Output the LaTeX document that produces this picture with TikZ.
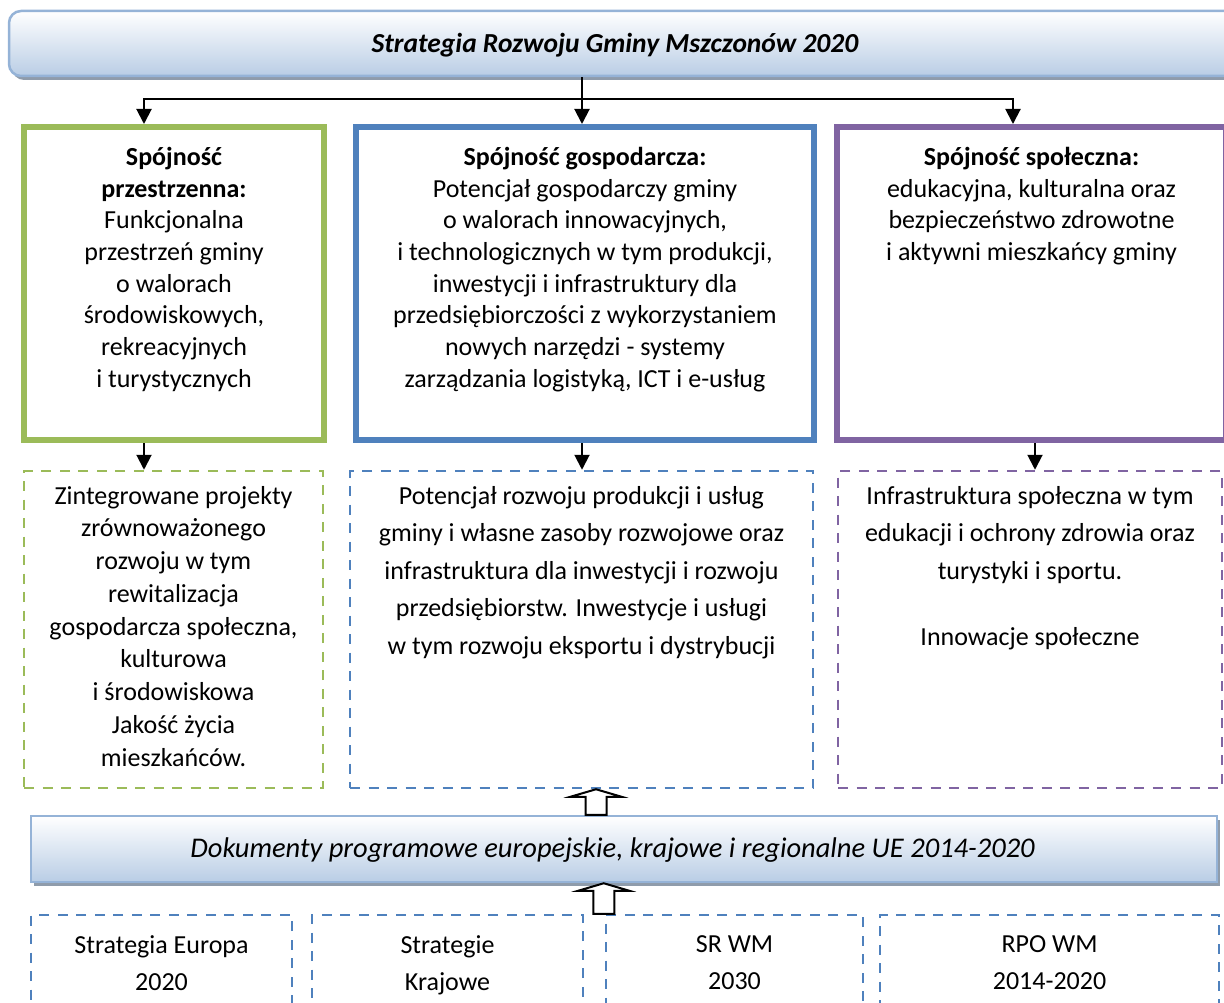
\documentclass[tikz,border=0pt]{standalone}
\usepackage{fontspec}
\setmainfont{Carlito}
\usetikzlibrary{positioning,calc,arrows.meta,shadows}

\definecolor{spatgreen}{RGB}{155,187,89}
\definecolor{econblue}{RGB}{79,129,189}
\definecolor{socpurple}{RGB}{128,100,162}
\definecolor{barblue}{RGB}{185,205,229}
\definecolor{barline}{RGB}{149,179,215}
\definecolor{barshadow}{RGB}{143,156,171}

\begin{document}
\begin{tikzpicture}
    [
    x=1pt, y=-1pt,
    bar/.style={
      draw=barline, line width=2.5pt,
      top color=white, bottom color=barblue, inner sep=0pt,
      drop shadow={shadow xshift=3pt, shadow yshift=-4pt,
        fill=barshadow, opacity=1}},
    goal/.style={draw=#1, line width=6pt, inner sep=0pt},
    detail/.style={draw=#1, line width=2.5pt,
      dash pattern=on 10pt off 8.5pt, inner sep=0pt},
    txt/.style={align=center, inner sep=0pt, anchor=north,
      execute at begin node=\rule{0pt}{24pt},
      font=\fontsize{26}{31.7}\selectfont},
    title/.style={inner sep=0pt, anchor=base},
    conn/.style={line width=2pt, -{Triangle[length=15pt,width=15pt]}},
    hollow/.style={draw=black, line width=2pt, fill=white, line join=miter}
    ]
    \useasboundingbox (0,0) rectangle (1224,1003);
    \clip (0,0) rectangle (1224,1003);

    % Top bar
    \node[bar, rounded corners=12pt, minimum width=1241pt, minimum height=65pt]
      (strat) at (629.5,43.5) {};
    \node[title, font=\fontsize{27.5}{31.7}\selectfont\bfseries\itshape]
      (strat-text) at (615,53) {Strategia Rozwoju Gminy Mszczonów 2020};

    % The three goals
    \node[goal=spatgreen, minimum width=300pt, minimum height=313pt] (spat) at (174,283.5) {};
    \node[goal=econblue, minimum width=458pt, minimum height=313pt] (econ) at (585,283.5) {};
    \node[goal=socpurple, minimum width=389pt, minimum height=313pt] (soc) at (1031.5,283.5) {};

    \node[txt] (spat-text) at ([yshift=-23pt]spat.north)
      {\textbf{Spójność}\\ \textbf{przestrzenna:}\\ Funkcjonalna\\ przestrzeń gminy\\
       o walorach\\ środowiskowych,\\ rekreacyjnych\\ i turystycznych};
    \node[txt] (econ-text) at ([yshift=-23pt]econ.north)
      {\textbf{Spójność gospodarcza:}\\ Potencjał gospodarczy gminy\\
       o walorach innowacyjnych,\\ i technologicznych w tym produkcji,\\
       inwestycji i infrastruktury dla\\ przedsiębiorczości z wykorzystaniem\\
       nowych narzędzi - systemy\\ zarządzania logistyką, ICT i e-usług};
    \node[txt] (soc-text) at ([yshift=-23pt]soc.north)
      {\textbf{Spójność społeczna:}\\ edukacyjna, kulturalna oraz\\
       bezpieczeństwo zdrowotne\\ i aktywni mieszkańcy gminy};

    % The details below each goal
    \node[detail=spatgreen, minimum width=299pt, minimum height=317pt] (spatD) at (173.5,629.5) {};
    \node[detail=econblue, minimum width=463pt, minimum height=317pt] (econD) at (581.5,629.5) {};
    \node[detail=socpurple, minimum width=384pt, minimum height=317pt] (socD) at (1030,629.5) {};

    \node[txt, font=\fontsize{26}{32.75}\selectfont] (spatD-text) at ([yshift=-16pt]spatD.north)
      {Zintegrowane projekty\\ zrównoważonego\\ rozwoju w tym\\ rewitalizacja\\
       gospodarcza społeczna,\\ kulturowa\\ i środowiskowa\\ Jakość życia\\ mieszkańców.};
    \node[txt, font=\fontsize{26}{37.5}\selectfont] (econD-text) at ([yshift=-16pt]econD.north)
      {Potencjał rozwoju produkcji i usług\\ gminy i własne zasoby rozwojowe oraz\\
       infrastruktura dla inwestycji i rozwoju\\ przedsiębiorstw. Inwestycje i usługi\\
       w tym rozwoju eksportu i dystrybucji};
    \node[txt, font=\fontsize{26}{37.5}\selectfont] (socD-text) at ([yshift=-16pt]socD.north)
      {Infrastruktura społeczna w tym\\ edukacji i ochrony zdrowia oraz\\
       turystyki i sportu.\\[28.5pt] Innowacje społeczne};

    % Lower bar
    \node[bar, minimum width=1186pt, minimum height=66pt] (docs) at (624,849) {};
    \node[title, font=\fontsize{28.5}{31.7}\selectfont\itshape] (docs-text) at (612.5,857)
      {Dokumenty programowe europejskie, krajowe i regionalne UE 2014-2020};

    % Source documents
    \foreach \name/\cx/\w/\lab in {
        srcA/161.5/261/{Strategia Europa\\ 2020},
        srcB/447.5/271/{Strategie\\ Krajowe},
        srcC/734.5/257/{SR WM\\ 2030},
        srcD/1049.5/339/{RPO WM\\ 2014-2020}} {
      \node[detail=econblue, minimum width=\w pt, minimum height=125pt] (\name) at (\cx,977.5) {};
      \node[txt, font=\fontsize{26}{37.5}\selectfont] (\name-text) at ([yshift=-21.5pt]\name.north) {\lab};
    }

    % Connectors from the top bar
    \coordinate (fork) at (582,99);
    \coordinate (forkL) at (144,99);
    \coordinate (forkR) at (1013,99);
    \draw[conn] (strat.south -| fork) -- (econ.north -| fork);
    \draw[line width=2pt, {Triangle[length=15pt,width=15pt]}-{Triangle[length=15pt,width=15pt]}]
      (forkL |- spat.north) -- (forkL) -- (forkR) -- (forkR |- soc.north);

    % Goals to details
    \foreach \g/\dx in {spat/-30, econ/-3, soc/3.5} {
      \draw[conn] (\g.south) ++(\dx,0) coordinate (drop-\g) -- (drop-\g |- \g D.north);
    }

    % Hollow arrows up
    \path (docs.north) ++(-28,0) coordinate (upA);
    \path (srcC.north west) ++(-1,0) coordinate (upB);
    \foreach \tail/\head in {upA/econD, upB/docs} {
      \draw[hollow] let \p1=(\tail), \p2=(\tail |- \head.south) in
        (\x1-10.5pt,\y1) -- (\x1-10.5pt,\y2-7.5pt) -- (\x1-25.5pt,\y2-7.5pt)
        -- (\x1,\y2) -- (\x1+25.5pt,\y2-7.5pt) -- (\x1+10.5pt,\y2-7.5pt)
        -- (\x1+10.5pt,\y1) -- cycle;
    }
\end{tikzpicture}
\end{document}
